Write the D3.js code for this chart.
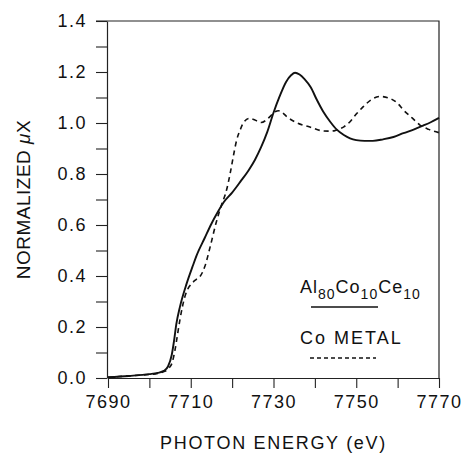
<!DOCTYPE html>
<html>
<head>
<meta charset="utf-8">
<script src="https://cdn.jsdelivr.net/npm/d3@7"></script>
<style>
  body { margin: 0; background: #fff; }
  text { font-family: "Liberation Sans", Arial, Helvetica, sans-serif; fill: #111; }
</style>
</head>
<body>
<div id="chart"></div>
<script>
// Al80Co10Ce10 (solid)
const alloyEnergy = [7690, 7695, 7700, 7702, 7703.5, 7704.5, 7705.4, 7706, 7706.5, 7707.4, 7709, 7710.5, 7711.4, 7713.4, 7715, 7716.5, 7718, 7720, 7722, 7724, 7725.5, 7727, 7728.5, 7730, 7731.5, 7733, 7734.3, 7735.2, 7736.3, 7737.5, 7739, 7740.5, 7742, 7743.7, 7745.3, 7747, 7748.5, 7750, 7752, 7754, 7756.5, 7759, 7761.4, 7764, 7766.2, 7768, 7770];
const alloyMu = [0.003, 0.008, 0.015, 0.02, 0.028, 0.045, 0.09, 0.15, 0.21, 0.28, 0.37, 0.44, 0.48, 0.55, 0.605, 0.65, 0.69, 0.727, 0.77, 0.815, 0.855, 0.905, 0.965, 1.04, 1.105, 1.16, 1.188, 1.197, 1.19, 1.172, 1.14, 1.09, 1.045, 1.005, 0.974, 0.953, 0.94, 0.933, 0.93, 0.93, 0.936, 0.945, 0.96, 0.975, 0.99, 1.003, 1.02];

// Co metal (dashed)
const metalEnergy = [7690, 7695, 7700, 7702, 7703.5, 7704.5, 7705.5, 7706.2, 7706.8, 7707.4, 7708.6, 7709.5, 7710.2, 7711.2, 7712.2, 7713.4, 7714.7, 7716.1, 7717.3, 7718.7, 7719.5, 7720.3, 7721.1, 7722, 7722.7, 7724.1, 7725.5, 7727, 7728.5, 7729.5, 7730.5, 7731.2, 7732.2, 7733.2, 7735.6, 7738.8, 7742, 7744, 7745.3, 7747, 7748.5, 7750, 7751.7, 7753.5, 7755.7, 7758.2, 7760, 7761.4, 7763.5, 7765.4, 7767.5, 7770];
const metalMu = [0.003, 0.008, 0.014, 0.018, 0.025, 0.035, 0.06, 0.11, 0.17, 0.23, 0.32, 0.355, 0.37, 0.385, 0.397, 0.437, 0.515, 0.607, 0.672, 0.74, 0.8, 0.87, 0.933, 0.975, 1.0, 1.018, 1.012, 1.002, 1.015, 1.031, 1.045, 1.048, 1.04, 1.025, 1.001, 0.984, 0.969, 0.968, 0.973, 0.985, 1.005, 1.035, 1.064, 1.09, 1.104, 1.096, 1.077, 1.051, 1.02, 0.992, 0.975, 0.962];

const yTicks = [0, 0.1, 0.2, 0.3, 0.4, 0.5, 0.6, 0.7, 0.8, 0.9, 1.0, 1.1, 1.2, 1.3, 1.4];
const xTicks = [7690, 7700, 7710, 7720, 7730, 7740, 7750, 7760, 7770];

const width = 467, height = 455;
const margin = {top: 21, right: 28, bottom: 77, left: 107};

const svg = d3.select("#chart").append("svg")
    .attr("width", width)
    .attr("height", height);

const x = d3.scaleLinear().domain([7690, 7770]).range([margin.left + 1, width - margin.right]);
const y = d3.scaleLinear().domain([0, 1.4]).range([height - margin.bottom, margin.top]);

// frame (top and right)
svg.append("path")
    .attr("d", `M${margin.left - 11},${y(1.4)} H${x(7770)} V${y(0)}`)
    .attr("fill", "none")
    .attr("stroke", "#222")
    .attr("stroke-width", 1.2);

svg.append("g")
    .attr("transform", `translate(${margin.left},0)`)
    .call(d3.axisLeft(y)
        .tickValues(yTicks)
        .tickSize(11)
        .tickSizeOuter(0)
        .tickPadding(9)
        .tickFormat(d => Math.round(d * 10) % 2 === 0 ? d3.format(".1f")(d) : ""));

svg.append("g")
    .attr("transform", `translate(0,${y(0)})`)
    .call(d3.axisBottom(x)
        .tickValues(xTicks)
        .tickSize(10)
        .tickSizeOuter(0)
        .tickPadding(7)
        .tickFormat(d => (d - 7690) % 20 === 0 ? d : ""));

svg.selectAll(".domain").attr("stroke", "#222").attr("stroke-width", 1.2);
svg.selectAll(".tick line").attr("stroke", "#222").attr("stroke-width", 1.1);
svg.selectAll(".tick text")
    .style("font-size", "18px")
    .style("letter-spacing", "1.5px")
    .attr("fill", "#111");

// axis titles
svg.append("text")
    .attr("x", (x(7690) + x(7770)) / 2)
    .attr("y", 449)
    .attr("text-anchor", "middle")
    .style("font-size", "18px")
    .style("letter-spacing", "1.7px")
    .text("PHOTON ENERGY (eV)");

const yTitle = svg.append("text")
    .attr("transform", `translate(30,${(y(0) + y(1.4)) / 2}) rotate(-90)`)
    .attr("text-anchor", "middle")
    .style("font-size", "19px")
    .style("letter-spacing", "0.5px");
yTitle.append("tspan").text("NORMALIZED ");
yTitle.append("tspan").style("font-style", "italic").text("\u03bc");
yTitle.append("tspan").text("X");

// curves
const line = d3.line()
    .x(d => x(d[0]))
    .y(d => y(d[1]))
    .curve(d3.curveMonotoneX);

svg.append("path")
    .datum(d3.zip(metalEnergy, metalMu))
    .attr("fill", "none")
    .attr("stroke", "#111")
    .attr("stroke-width", 1.6)
    .attr("stroke-dasharray", "5,4")
    .attr("d", line);

svg.append("path")
    .datum(d3.zip(alloyEnergy, alloyMu))
    .attr("fill", "none")
    .attr("stroke", "#111")
    .attr("stroke-width", 1.9)
    .attr("d", line);

// legend
const leg = svg.append("g");
const l1 = leg.append("text")
    .attr("x", 300)
    .attr("y", 293)
    .style("font-size", "18px")
    .style("letter-spacing", "1px");
[["Al", false], ["80", true], ["Co", false], ["10", true], ["Ce", false], ["10", true]].forEach(([t, sub]) => {
    l1.append("tspan")
        .attr("dy", sub ? 6 : (t === "Al" ? 0 : -6))
        .style("font-size", sub ? "14px" : "18px")
        .text(t);
});
leg.append("line")
    .attr("x1", 311).attr("x2", 378)
    .attr("y1", 307).attr("y2", 307)
    .attr("stroke", "#111").attr("stroke-width", 1.6);

leg.append("text")
    .attr("x", 300)
    .attr("y", 344)
    .style("font-size", "18px")
    .style("letter-spacing", "2px")
    .text("Co METAL");
leg.append("line")
    .attr("x1", 310).attr("x2", 376)
    .attr("y1", 358).attr("y2", 358)
    .attr("stroke", "#111").attr("stroke-width", 1.3)
    .attr("stroke-dasharray", "4,3");
</script>
</body>
</html>
